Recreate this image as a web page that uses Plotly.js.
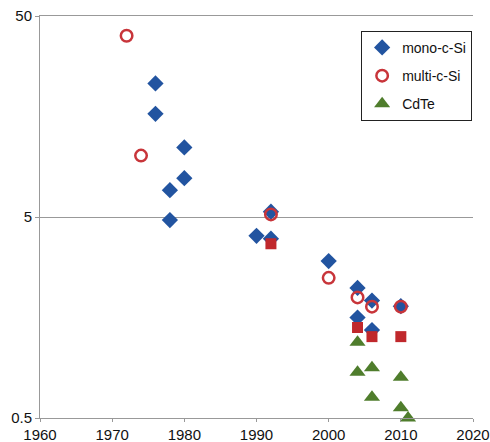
<!DOCTYPE html>
<html>
<head>
<meta charset="utf-8">
<script src="https://cdn.plot.ly/plotly-3.0.1.min.js"></script>
<style>html,body{margin:0;padding:0;background:#fff;}#chart{width:490px;height:442px;}</style>
</head>
<body>
<div id="chart"></div>
<script>
const monoYears = [1976, 1976, 1980, 1980, 1978, 1978, 1990, 1992, 1992, 2000, 2004, 2006, 2010, 2004, 2006];
const monoValues = [23.1, 16.3, 11.1, 7.8, 6.8, 4.83, 4.03, 5.31, 3.9, 3.02, 2.22, 1.92, 1.80, 1.58, 1.37];
const multiYears = [1972, 1974, 1992, 2000, 2004, 2006, 2010];
const multiValues = [39.9, 10.1, 5.15, 2.49, 1.99, 1.79, 1.79];
const squareYears = [1992, 2004, 2006, 2010];
const squareValues = [3.68, 1.41, 1.27, 1.27];
const cdteYears = [2004, 2004, 2006, 2006, 2010, 2010, 2011];
const cdteValues = [1.19, 0.844, 0.889, 0.634, 0.797, 0.563, 0.50];
const xTicks = [1960, 1970, 1980, 1990, 2000, 2010, 2020];
const yTicks = [0.5, 5, 50];
const yTickLabels = ['0.5', '5', '50'];

const traces = [
  {x: monoYears, y: monoValues, name: 'mono-c-Si', type: 'scatter', mode: 'markers', legendgroup: 'a',
   marker: {symbol: 'diamond', size: 12.5, color: '#2254A0'}, cliponaxis: false},
  {x: squareYears, y: squareValues, name: 'multi-c-Si (sq)', type: 'scatter', mode: 'markers', showlegend: false,
   marker: {symbol: 'square', size: 11, color: '#C0282C'}, cliponaxis: false},
  {x: multiYears, y: multiValues, name: 'multi-c-Si', type: 'scatter', mode: 'markers', legendgroup: 'b',
   marker: {symbol: 'circle-open', size: 11.5, color: '#C8353A', line: {width: 2.5, color: '#C8353A'}}, cliponaxis: false},
  {x: cdteYears, y: cdteValues, name: 'CdTe', type: 'scatter', mode: 'markers', legendgroup: 'c',
   marker: {symbol: 'triangle-up', size: 14, color: '#4F7D2C'}, cliponaxis: false}
];

const layout = {
  width: 490, height: 442,
  margin: {l: 40, r: 17, t: 16, b: 24},
  paper_bgcolor: '#fff', plot_bgcolor: '#fff',
  font: {family: 'Liberation Sans, Arial, sans-serif', size: 14, color: '#111'},
  showlegend: true,
  legend: {x: 0.998, y: 0.963, xanchor: 'right', yanchor: 'top', bgcolor: '#fff',
           bordercolor: '#222', borderwidth: 1, font: {size: 14, color: '#111'},
           traceorder: 'grouped', tracegroupgap: 7, itemwidth: 30},
  xaxis: {range: [1960, 2020], tickvals: xTicks, ticks: 'outside', ticklen: 3, tickcolor: '#999',
          showgrid: false, zeroline: false, showline: true, mirror: true, linecolor: '#999', linewidth: 1,
          automargin: false, tickfont: {size: 15, color: '#111'}},
  yaxis: {type: 'log', range: [Math.log10(0.5), Math.log10(50)], tickvals: yTicks, ticktext: yTickLabels,
          ticks: 'outside', ticklen: 4, tickcolor: '#999', showgrid: true, gridcolor: '#999', gridwidth: 1,
          zeroline: false, showline: true, linecolor: '#999', linewidth: 1,
          automargin: false, tickfont: {size: 15, color: '#111'}}
};

Plotly.newPlot('chart', traces, layout, {displayModeBar: false, staticPlot: true});
</script>
</body>
</html>
